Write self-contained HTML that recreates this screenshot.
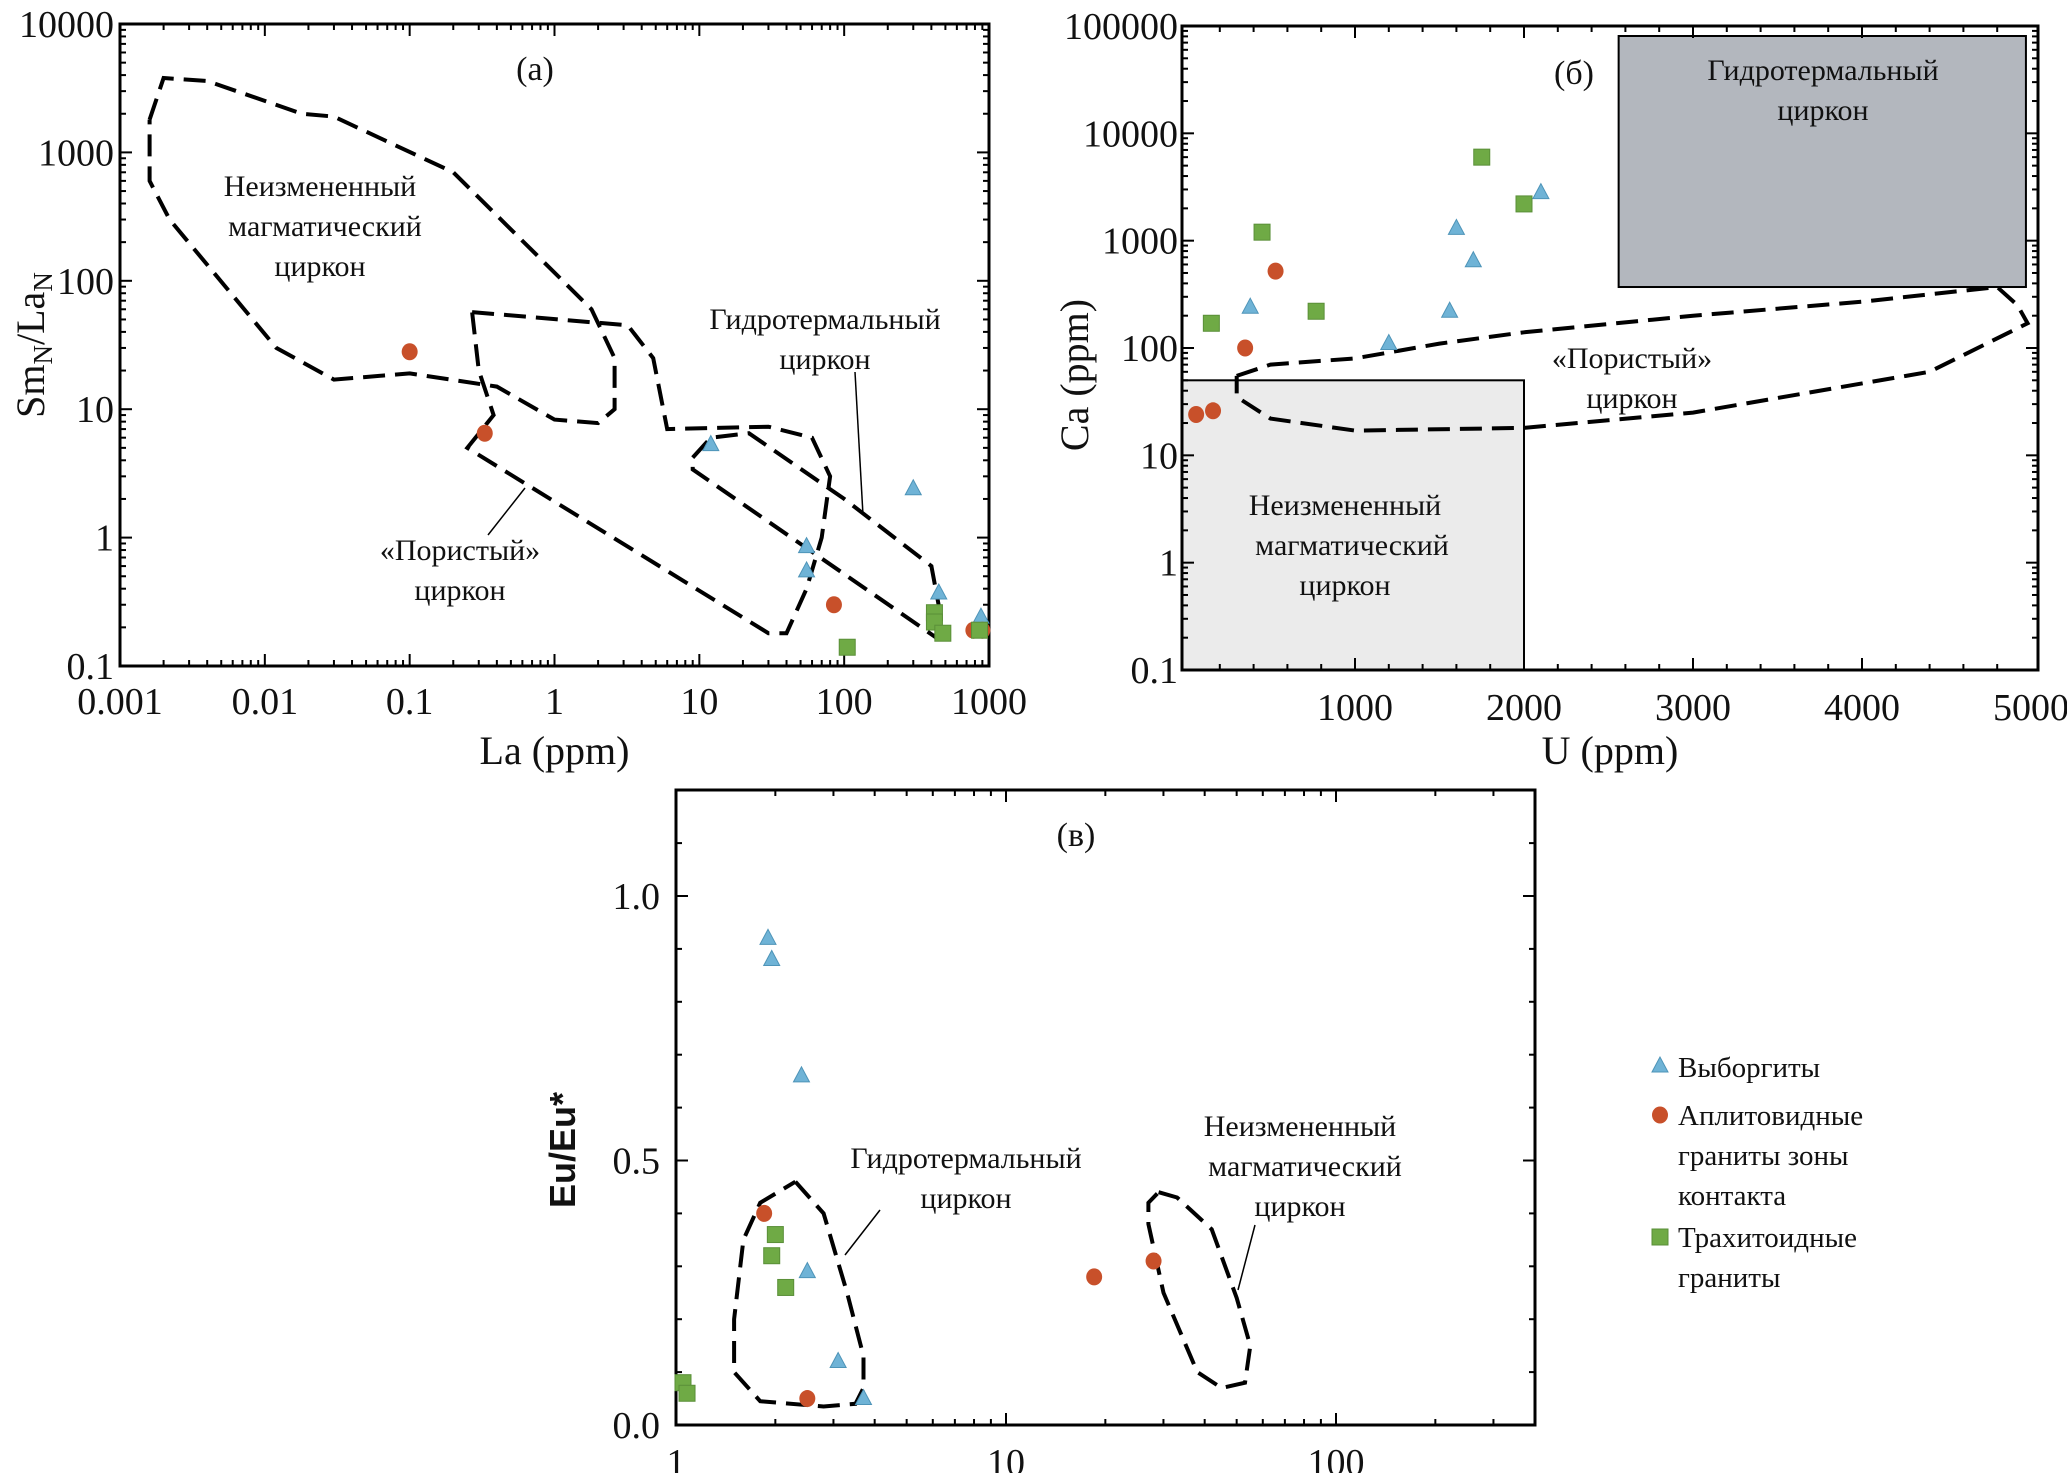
<!DOCTYPE html>
<html><head><meta charset="utf-8">
<style>
html,body{margin:0;padding:0;background:#fff;}
svg{display:block;font-family:"Liberation Serif","DejaVu Serif",serif;}
</style></head>
<body>
<svg id="chart" width="2067" height="1473" viewBox="0 0 2067 1473" xmlns="http://www.w3.org/2000/svg"></svg>
<script>
// ---- Panel (a) data ----
const aTriX=[12,55,55,300,450,880], aTriY=[5.3,0.85,0.55,2.4,0.37,0.24];
const aCirX=[0.1,0.33,85,780,900], aCirY=[28,6.5,0.3,0.19,0.19];
const aSqX=[105,420,420,480,860], aSqY=[0.14,0.26,0.22,0.18,0.19];
const aUnaltX=[0.0016,0.002,0.004,0.018,0.03,0.2,1.8,2.6,2.6,2.0,1.0,0.4,0.1,0.03,0.012,0.0022,0.0016,0.0016];
const aUnaltY=[1800,3800,3600,2000,1900,700,60,25,10,7.8,8.3,15,19,17,30,300,600,1800];
const aPorX=[0.27,3.2,4.8,6,30,60,80,70,55,40,30,0.25,0.38,0.3,0.27];
const aPorY=[57,45,25,7,7.3,6,3,1,0.4,0.18,0.18,5,9,20,57];
const aHydX=[9,12,22,100,400,480,420,9,9];
const aHydY=[4.2,6,6.5,2,0.6,0.2,0.17,3.4,4.2];
const aXTicks=["0.001","0.01","0.1","1","10","100","1000"];
const aYTicks=["0.1","1","10","100","1000","10000"];
// ---- Panel (б) data ----
const bCirX=[60,160,350,530], bCirY=[24,26,100,520];
const bSqX=[150,450,770,1750,2000], bSqY=[170,1200,220,6000,2200];
const bTriX=[380,1200,1560,1600,1700,2100], bTriY=[240,110,220,1300,650,2800];
const bPorX=[300,500,1000,1500,2000,3000,4000,4800,4920,4980,4400,3000,2000,1000,500,300,300];
const bPorY=[55,70,80,110,140,200,270,370,250,170,60,25,18,17,22,35,55];
const bXTicks=["1000","2000","3000","4000","5000"];
const bYTicks=["0.1","1","10","100","1000","10000","100000"];
// ---- Panel (в) data ----
const cTriX=[1.9,1.95,2.4,2.5,3.1,3.7], cTriY=[0.92,0.88,0.66,0.29,0.12,0.05];
const cCirX=[1.85,2.5,18.5,28], cCirY=[0.40,0.05,0.28,0.31];
const cSqX=[1.05,1.08,2.0,1.95,2.15], cSqY=[0.08,0.06,0.36,0.32,0.26];
const cHydX=[2.3,2.8,3.3,3.7,3.7,3.5,2.8,1.8,1.5,1.5,1.6,1.8,2.3];
const cHydY=[0.46,0.4,0.25,0.13,0.07,0.04,0.035,0.045,0.1,0.2,0.35,0.42,0.46];
const cUnX=[29,33,42,50,55,53,45,38,30,27,27,29];
const cUnY=[0.44,0.43,0.37,0.24,0.15,0.08,0.07,0.1,0.25,0.38,0.42,0.44];
const cXTicks=["1","10","100"];
const cYTicks=["0.0","0.5","1.0"];

const svg=document.getElementById('chart');
const NS="http://www.w3.org/2000/svg";
function mk(tag,attrs,parent){const e=document.createElementNS(NS,tag);for(const k in attrs)e.setAttribute(k,attrs[k]);(parent||svg).appendChild(e);return e;}
function txt(x,y,s,size,anchor,name,extra){const t=mk('text',Object.assign({x:x,y:y,'font-size':size,'text-anchor':anchor||'middle',fill:'#111'},extra||{}));t.textContent=s;

return t;}
const TRI='#6fb3d6',CIR='#c8502a',SQ='#6faa45';
function tri(x,y,name){const p=mk('polygon',{points:`${x},${y-9} ${x-8},${y+6} ${x+8},${y+6}`,fill:TRI,stroke:'#4e94b8','stroke-width':1});

}
function cir(x,y,name){const p=mk('ellipse',{cx:x,cy:y,rx:8,ry:8.5,fill:CIR});

}
function sq(x,y,name){const p=mk('rect',{x:x-8,y:y-8,width:16,height:16,fill:SQ,stroke:'#5a8f38','stroke-width':1});

}
function dashed(xs,ys,fx,fy,name){let d='';for(let i=0;i<xs.length;i++)d+=(i?'L':'M')+fx(xs[i]).toFixed(1)+','+fy(ys[i]).toFixed(1);
const p=mk('path',{d:d,fill:'none',stroke:'#000','stroke-width':4,'stroke-dasharray':'22,10'});

}
function line(x1,y1,x2,y2,w){mk('line',{x1:x1,y1:y1,x2:x2,y2:y2,stroke:'#000','stroke-width':w||2});}
function frame(l,t,r,b,name){const p=mk('rect',{x:l,y:t,width:r-l,height:b-t,fill:'none',stroke:'#000','stroke-width':3});

}

// ===== Panel (a) =====
{const L=120,R=989,T=24,B=666;
const fx=v=>L+(Math.log10(v)+3)/6*(R-L);
const fy=v=>B-(Math.log10(v)+1)/5*(B-T);
dashed(aUnaltX,aUnaltY,fx,fy,'unaltered-contour-a');
dashed(aPorX,aPorY,fx,fy,'porous-contour-a');
dashed(aHydX,aHydY,fx,fy,'hydrothermal-contour-a');
frame(L,T,R,B,'plot-frame-a');
for(let d=-3;d<3;d++)for(let k=1;k<10;k++){const x=fx(k*Math.pow(10,d));const len=k==1?12:6;line(x,B,x,B-len);line(x,T,x,T+len);}
for(let d=-1;d<4;d++)for(let k=1;k<10;k++){const y=fy(k*Math.pow(10,d));const len=k==1?12:6;line(L,y,L+len,y);line(R,y,R-len,y);}
aXTicks.forEach((s,i)=>txt(fx(Math.pow(10,i-3)),B+48,s,38,'middle','x-tick-a'));
aYTicks.forEach((s,i)=>txt(L-6,fy(Math.pow(10,i-1))+13,s,38,'end','y-tick-a'));
txt((L+R)/2,764,'La (ppm)',40,'middle','x-axis-title-a');
const yt=txt(0,0,'',40,'middle','y-axis-title-a',{transform:'translate(44,345) rotate(-90)'});
yt.innerHTML='Sm<tspan font-size="27" dy="8">N</tspan><tspan dy="-8">/La</tspan><tspan font-size="27" dy="8">N</tspan>';
txt(535,80,'(a)',34,'middle','panel-label-a');
txt(320,196,'Неизмененный',30,'middle','label-unaltered-a');
txt(325,236,'магматический',30,'middle','label-unaltered-a');
txt(320,276,'циркон',30,'middle','label-unaltered-a');
txt(825,329,'Гидротермальный',30,'middle','label-hydro-a');
txt(825,369,'циркон',30,'middle','label-hydro-a');
txt(460,560,'«Пористый»',30,'middle','label-porous-a');
txt(460,600,'циркон',30,'middle','label-porous-a');
line(855,372,863,515,1.5);line(488,535,525,488,1.5);
aTriX.forEach((v,i)=>tri(fx(v),fy(aTriY[i]),'point-vyborgite-a'));
aCirX.forEach((v,i)=>cir(fx(v),fy(aCirY[i]),'point-aplite-a'));
aSqX.forEach((v,i)=>sq(fx(v),fy(aSqY[i]),'point-trachytoid-a'));}

// ===== Panel (б) =====
{const L=1182,R=2038,T=26,B=670;
const fx=v=>1186+v/1000*169;
const fy=v=>B-(Math.log10(v)+1)/6*(B-T);
const g1=mk('rect',{x:L,y:fy(50),width:fx(2000)-L,height:B-fy(50),fill:'#ebebeb',stroke:'#000','stroke-width':2});


const g2=mk('rect',{x:fx(2560),y:36,width:fx(4970)-fx(2560),height:fy(370)-36,fill:'#b3b7be',stroke:'#000','stroke-width':2});


dashed(bPorX,bPorY,fx,fy,'porous-contour-b');
frame(L,T,R,B,'plot-frame-b');
for(let v=200;v<5000;v+=200){const x=fx(v);const len=v%1000==0?12:6;line(x,B,x,B-len);line(x,T,x,T+len);}
for(let d=-1;d<5;d++)for(let k=1;k<10;k++){const y=fy(k*Math.pow(10,d));const len=k==1?12:6;line(L,y,L+len,y);line(R,y,R-len,y);}
bXTicks.forEach((s,i)=>txt(fx((i+1)*1000),B+50,s,38,'middle','x-tick-b'));
bYTicks.forEach((s,i)=>txt(L-4,fy(Math.pow(10,i-1))+13,s,38,'end','y-tick-b'));
txt((L+R)/2,764,'U (ppm)',40,'middle','x-axis-title-b');
txt(0,0,'Ca (ppm)',40,'middle','y-axis-title-b',{transform:'translate(1088,375) rotate(-90)'});
txt(1574,84,'(б)',34,'middle','panel-label-b');
txt(1823,80,'Гидротермальный',30,'middle','label-hydro-b');
txt(1823,120,'циркон',30,'middle','label-hydro-b');
txt(1632,368,'«Пористый»',30,'middle','label-porous-b');
txt(1632,408,'циркон',30,'middle','label-porous-b');
txt(1345,515,'Неизмененный',30,'middle','label-unaltered-b');
txt(1352,555,'магматический',30,'middle','label-unaltered-b');
txt(1345,595,'циркон',30,'middle','label-unaltered-b');
bCirX.forEach((v,i)=>cir(fx(v),fy(bCirY[i]),'point-aplite-b'));
bSqX.forEach((v,i)=>sq(fx(v),fy(bSqY[i]),'point-trachytoid-b'));
bTriX.forEach((v,i)=>tri(fx(v),fy(bTriY[i]),'point-vyborgite-b'));}

// ===== Panel (в) =====
{const L=676,R=1535,T=790,B=1425;
const fx=v=>L+Math.log10(v)*330;
const fy=v=>B-v*529;
dashed(cHydX,cHydY,fx,fy,'hydrothermal-contour-c');
dashed(cUnX,cUnY,fx,fy,'unaltered-contour-c');
frame(L,T,R,B,'plot-frame-c');
for(let d=0;d<3;d++)for(let k=1;k<10;k++){const v=k*Math.pow(10,d);if(v>400)break;const x=fx(v);const len=k==1?12:6;line(x,B,x,B-len);line(x,T,x,T+len);}
for(let v=0.1;v<1.2;v+=0.1){const y=fy(v);const len=Math.abs(v*2-Math.round(v*2))<0.01?12:6;line(L,y,L+len,y);line(R,y,R-len,y);}
cXTicks.forEach((s,i)=>txt(fx(Math.pow(10,i)),B+50,s,38,'middle','x-tick-c'));
cYTicks.forEach((s,i)=>txt(L-16,fy(i*0.5)+13,s,38,'end','y-tick-c'));
txt(0,0,'Eu/Eu*',36,'middle','y-axis-title-c',{transform:'translate(575,1150) rotate(-90)','font-weight':'bold','font-family':'"Liberation Sans",sans-serif'});
txt(1076,846,'(в)',34,'middle','panel-label-c');
txt(966,1168,'Гидротермальный',30,'middle','label-hydro-c');
txt(966,1208,'циркон',30,'middle','label-hydro-c');
txt(1300,1136,'Неизмененный',30,'middle','label-unaltered-c');
txt(1305,1176,'магматический',30,'middle','label-unaltered-c');
txt(1300,1216,'циркон',30,'middle','label-unaltered-c');
line(880,1210,845,1255,1.5);line(1255,1225,1238,1290,1.5);
cTriX.forEach((v,i)=>tri(fx(v),fy(cTriY[i]),'point-vyborgite-c'));
cCirX.forEach((v,i)=>cir(fx(v),fy(cCirY[i]),'point-aplite-c'));
cSqX.forEach((v,i)=>sq(fx(v),fy(cSqY[i]),'point-trachytoid-c'));}

// ===== Legend =====
tri(1660,1066,'legend-marker-vyborgite');
cir(1660,1115,'legend-marker-aplite');
sq(1660,1237,'legend-marker-trachytoid');
txt(1678,1077,'Выборгиты',29,'start','legend-entry-vyborgite');
txt(1678,1125,'Аплитовидные',29,'start','legend-entry-aplite');
txt(1678,1165,'граниты зоны',29,'start','legend-entry-aplite');
txt(1678,1205,'контакта',29,'start','legend-entry-aplite');
txt(1678,1247,'Трахитоидные',29,'start','legend-entry-trachytoid');
txt(1678,1287,'граниты',29,'start','legend-entry-trachytoid');
</script>
</body></html>
